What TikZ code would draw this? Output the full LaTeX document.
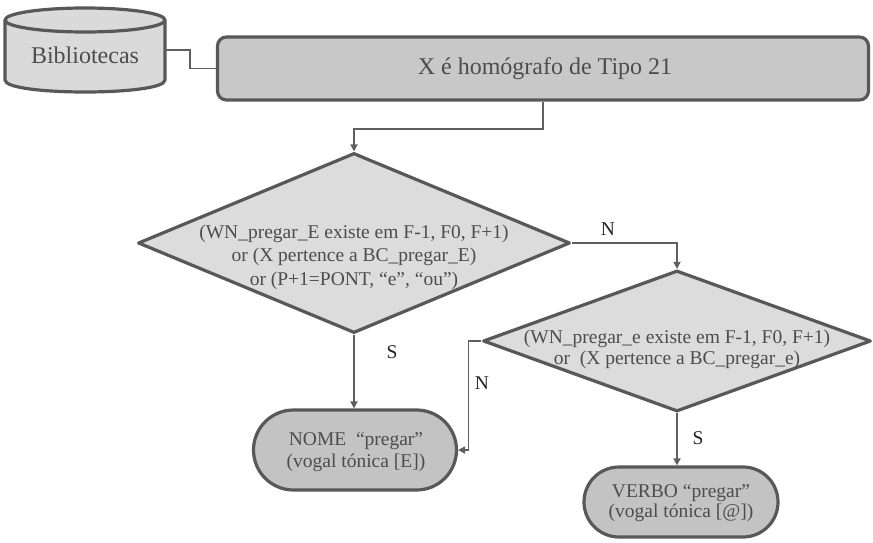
\documentclass[tikz,border=0pt]{standalone}
\usepackage{fontspec}
\setmainfont{Liberation Serif}
\usetikzlibrary{arrows.meta,shapes.geometric}

\definecolor{edge}{HTML}{585858}
\definecolor{wire}{HTML}{606060}
\definecolor{libfill}{HTML}{DADADA}
\definecolor{headfill}{HTML}{C8C8C8}
\definecolor{testfill}{HTML}{DCDCDC}
\definecolor{endfill}{HTML}{C3C3C3}
\definecolor{ink}{HTML}{4D4D4D}
\definecolor{lblink}{HTML}{222222}

\tikzset{
  shapeline/.style={draw=edge, line width=3.2pt, line join=round},
  headbox/.style={shapeline, fill=headfill, rectangle, rounded corners=9pt,
    minimum width=651pt, minimum height=63pt, inner sep=0pt},
  decision/.style={shapeline, fill=testfill, diamond, inner sep=0pt},
  terminal/.style={shapeline, fill=endfill, rectangle, inner sep=0pt},
  bodytext/.style={text=ink, align=center, inner sep=0pt,
    font=\fontsize{19.5}{22.5}\selectfont},
  bigtext/.style={text=ink, inner sep=0pt, font=\fontsize{24}{28}\selectfont},
  lbl/.style={text=lblink, inner sep=0pt, font=\fontsize{19.5}{22.5}\selectfont},
  wireline/.style={draw=wire, line width=1.8pt},
  flow/.style={wireline, -{Triangle[length=7pt,width=7pt]}},
}

\begin{document}
\begin{tikzpicture}[x=1pt, y=-1pt]
  \useasboundingbox (0,0) rectangle (873,543);

  % library cylinder
  \fill[libfill] (5,20) -- (5,80) .. controls (5,96) and (165,96) .. (165,80) -- (165,20) -- cycle;
  \draw[shapeline] (5,20) -- (5,80) .. controls (5,96) and (165,96) .. (165,80) -- (165,20);
  \filldraw[shapeline, fill=libfill] (85,20) ellipse [x radius=80pt, y radius=12pt];
  \node[inner sep=0pt, minimum width=160pt, minimum height=60pt] (lib) at (85,50) {};
  \node[bigtext] (libtext) at (85,55) {Bibliotecas};

  % header
  \node[headbox] (head) at (543,68.5) {};
  \node[bigtext] (headtext) at (545,69) {X é homógrafo de Tipo 21};

  % decisions
  \node[decision, minimum width=432pt, minimum height=180pt] (d1) at (354,243) {};
  \node[bodytext, font=\fontsize{19.5}{23.5}\selectfont] (d1text) at (354,257)
    {(WN\_pregar\_E existe em F-1, F0, F+1)\\ or (X pertence a BC\_pregar\_E)\\ or (P+1=PONT, “e”, “ou”)};

  \node[decision, minimum width=388pt, minimum height=141pt] (d2) at (677,341) {};
  \node[bodytext, font=\fontsize{19.5}{21}\selectfont] (d2text) at (677,349)
    {(WN\_pregar\_e existe em F-1, F0, F+1)\\ or\ \ (X pertence a BC\_pregar\_e)};

  % outcomes
  \node[terminal, rounded corners=40pt, minimum width=203pt, minimum height=80pt] (nome) at (355,450) {};
  \node[bodytext] (nometext) at (356,452) {NOME\ \ “pregar”\\ (vogal tónica [E])};

  \node[terminal, rounded corners=35pt, minimum width=194pt, minimum height=70pt] (verbo) at (681,502) {};
  \node[bodytext, font=\fontsize{19.5}{20.5}\selectfont] (verbotext) at (681,503) {VERBO “pregar”\\ (vogal tónica [@])};

  % connectors
  \draw[wireline] (lib.east) -- ++(25,0) |- (head.west);
  \draw[flow] (head.south) -- ++(0,27) -| (d1.north);
  \draw[flow] (d1.east) -| (d2.north);
  \draw[flow] (d1.south) -- (d1.south |- nome.north);
  \draw[flow] (d2.west) -- ++(-13,0) |- (nome.east);
  \draw[flow] (d2.south) -- (d2.south |- verbo.north);

  % branch labels
  \node[lbl] (n1) at (608,229) {N};
  \node[lbl] (s1) at (392,352) {S};
  \node[lbl] (n2) at (482,383) {N};
  \node[lbl] (s2) at (698,438) {S};
\end{tikzpicture}
\end{document}
